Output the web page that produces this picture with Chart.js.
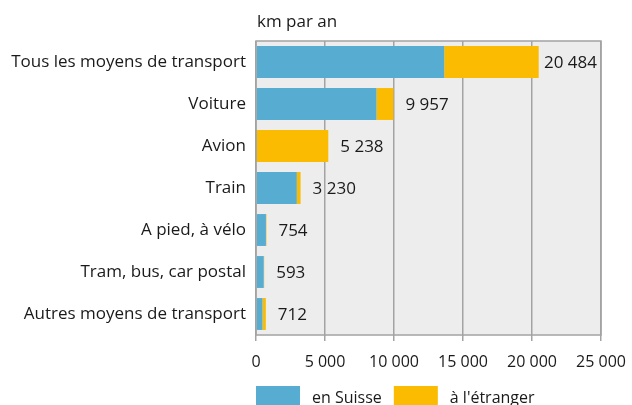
<!DOCTYPE html>
<html>
<head>
<meta charset="utf-8">
<script src="https://cdn.jsdelivr.net/npm/chart.js@4/dist/chart.umd.min.js"></script>
<style>
  html, body { margin: 0; padding: 0; background: #fff; }
  #wrap { width: 632px; height: 405px; }
</style>
</head>
<body>
<div id="wrap"><canvas id="myChart" width="632" height="405"></canvas></div>
<script>
const categories = [
    'Tous les moyens de transport',
    'Voiture',
    'Avion',
    'Train',
    'A pied, à vélo',
    'Tram, bus, car postal',
    'Autres moyens de transport'
];
const enSuisse = [13640, 8730, 30, 2958, 720, 560, 470];
const aEtranger = [6844, 1227, 5208, 272, 34, 33, 242];
const totals = [20484, 9957, 5238, 3230, 754, 593, 712];
const xTicks = [0, 5000, 10000, 15000, 20000, 25000];

const FONT = "'Open Sans', sans-serif";
const BLUE = '#57acd1';
const YELLOW = '#fbbb00';

function fmt(v) {
    return String(v).replace(/\B(?=(\d{3})+(?!\d))/g, ' ');
}

// fond gris + cadre, étiquettes des totaux, titre et légende
const decor = {
    id: 'decor',
    beforeDraw(chart) {
        const a = chart.chartArea, ctx = chart.ctx;
        ctx.save();
        ctx.fillStyle = '#ededed';
        ctx.fillRect(a.left, a.top, a.right - a.left, a.bottom - a.top);
        ctx.restore();
    },
    afterDraw(chart) {
        const a = chart.chartArea, ctx = chart.ctx;
        const xs = chart.scales.x, ys = chart.scales.y;
        ctx.save();
        ctx.strokeStyle = '#a3a3a3';
        ctx.lineWidth = 1.5;
        ctx.strokeRect(a.left, a.top, a.right - a.left, a.bottom - a.top);

        ctx.fillStyle = '#1a1a1a';
        ctx.font = '17px ' + FONT;
        ctx.textBaseline = 'middle';
        ctx.textAlign = 'left';
        totals.forEach((t, i) => {
            const txt = fmt(t);
            const w = ctx.measureText(txt).width;
            let x = xs.getPixelForValue(t) + 12;
            if (x + w > a.right - 4) x = a.right - 4 - w;
            ctx.fillText(txt, x, ys.getPixelForValue(i) + 1);
        });

        ctx.fillText('km par an', a.left + 1, 22);

        // légende
        ctx.font = '16px ' + FONT;
        const items = [['en Suisse', BLUE], ["à l'étranger", YELLOW]];
        let lx = a.left;
        const ly = 386;
        items.forEach(([label, col]) => {
            ctx.fillStyle = col;
            ctx.fillRect(lx, ly, 44, 20);
            ctx.fillStyle = '#1a1a1a';
            ctx.fillText(label, lx + 56, ly + 12);
            lx += 56 + ctx.measureText(label).width + 12;
        });
        ctx.restore();
    }
};

const config = {
    type: 'bar',
    data: {
        labels: categories,
        datasets: [{
            label: 'en Suisse',
            data: enSuisse,
            backgroundColor: BLUE,
            borderWidth: 0
        }, {
            label: "à l'étranger",
            data: aEtranger,
            backgroundColor: YELLOW,
            borderWidth: 0
        }]
    },
    options: {
        indexAxis: 'y',
        responsive: false,
        animation: false,
        datasets: {
            bar: { categoryPercentage: 0.76, barPercentage: 1 }
        },
        layout: { padding: { top: 41, right: 31, bottom: 0, left: 0 } },
        scales: {
            x: {
                stacked: true,
                min: 0,
                max: 25000,
                afterFit(s) { s.height = 70; s.paddingRight = 0; s.paddingLeft = 0; },
                afterBuildTicks(s) { s.ticks = xTicks.map(v => ({ value: v })); },
                ticks: {
                    color: '#1a1a1a',
                    font: { family: FONT, size: 16 },
                    padding: 12,
                    maxRotation: 0,
                    callback: v => fmt(v)
                },
                grid: { color: '#a3a3a3', lineWidth: 1.5, tickLength: 6 },
                border: { display: false }
            },
            y: {
                stacked: true,
                afterFit(s) { s.width = 256; },
                ticks: {
                    color: '#1a1a1a',
                    font: { family: FONT, size: 17 },
                    padding: 10
                },
                grid: { display: false, drawTicks: false },
                border: { display: false }
            }
        },
        plugins: {
            legend: { display: false },
            tooltip: { enabled: false }
        }
    },
    plugins: [decor]
};

const chart = new Chart(document.getElementById('myChart'), config);
</script>
</body>
</html>
